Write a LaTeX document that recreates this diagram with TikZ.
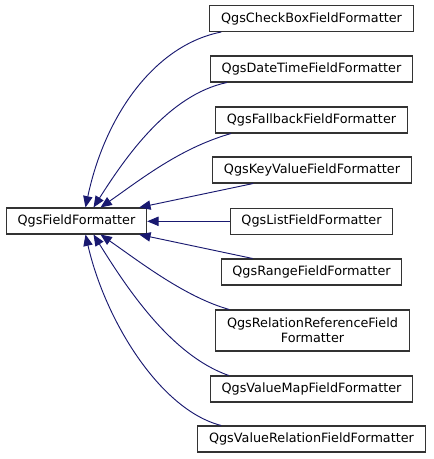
\documentclass[tikz,border=0pt]{standalone}
\usepackage{fontspec}
\setmainfont{DejaVu Sans}
\usetikzlibrary{arrows.meta,calc}
\definecolor{edgeblue}{HTML}{191970}

\begin{document}
\begin{tikzpicture}[x=0.75pt, y=-0.75pt,
    cls/.style={draw=black!80, line width=0.8pt, fill=white, inner xsep=8.5pt, inner ysep=0pt,
        minimum height=19.5pt, align=center, font=\fontsize{9.6}{11}\selectfont},
    inh/.style={edgeblue, line width=0.7pt, {Triangle[length=8.5pt,width=7pt]}-}]
    \useasboundingbox (0,0) rectangle (433,459);

    % Base class
    \node[cls] (base) at (76.5,221) {QgsFieldFormatter};

    % Derived classes
    \node[cls] (checkbox) at (311.5,18.5) {QgsCheckBoxFieldFormatter};
    \node[cls] (datetime) at (311.5,69) {QgsDateTimeFieldFormatter};
    \node[cls] (fallback) at (311.5,120) {QgsFallbackFieldFormatter};
    \node[cls] (keyvalue) at (312,170) {QgsKeyValueFieldFormatter};
    \node[cls] (list) at (311.5,221.3) {QgsListFieldFormatter};
    \node[cls] (range) at (311.5,272) {QgsRangeFieldFormatter};
    \node[cls, minimum height=30.75pt] (relref) at (312.5,330.5) {QgsRelationReferenceField\\Formatter};
    \node[cls] (valuemap) at (311.5,389) {QgsValueMapFieldFormatter};
    \node[cls] (valuerel) at (311.5,439) {QgsValueRelationFieldFormatter};

    % Edges above the base
    \draw[inh] ($(base.north)+(9,0)$) .. controls (105,115) and (155,45) .. ($(checkbox.south west)+(12,0)$);
    \draw[inh] ($(base.north)+(17,0)$) .. controls (125,158) and (168,95) .. ($(datetime.south west)+(17,0)$);
    \draw[inh] ($(base.north)+(24,0)$) .. controls (140,180) and (180,148) .. ($(fallback.south west)+(16,0)$);
    \draw[inh] ($(base.north east)+(-8,0)$) -- ($(keyvalue.south west)+(41,0)$);

    % Straight edge
    \draw[inh] ($(base.east)+(0,0.3)$) -- (list.west);

    % Edges below the base
    \draw[inh] ($(base.south east)+(-8,0)$) -- ($(range.north west)+(32,0)$);
    \draw[inh] ($(base.south)+(24,0)$) .. controls (140,262) and (185,297) .. ($(relref.north west)+(14,0)$);
    \draw[inh] ($(base.south)+(17,0)$) .. controls (125,285) and (170,355) .. ($(valuemap.north west)+(19,0)$);
    \draw[inh] ($(base.south)+(9,0)$) .. controls (105,320) and (160,410) .. ($(valuerel.north west)+(24,0)$);
\end{tikzpicture}
\end{document}
